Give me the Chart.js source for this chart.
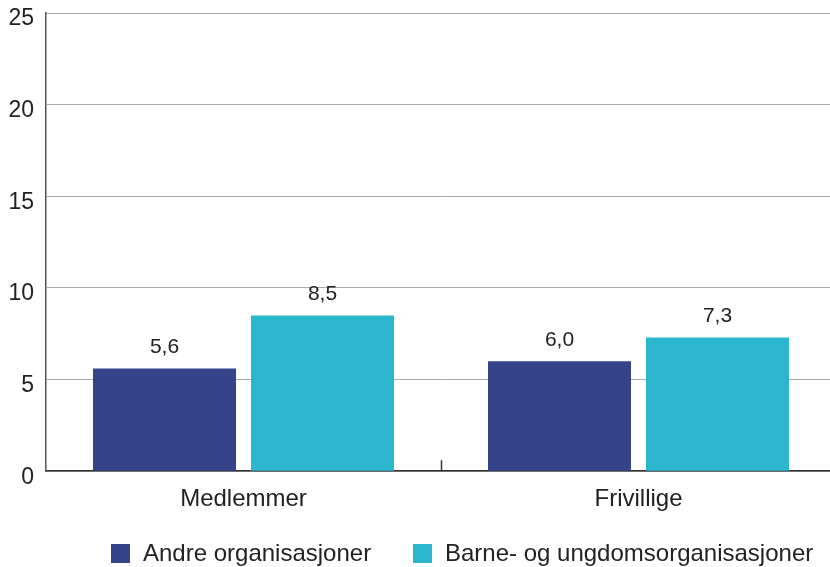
<!DOCTYPE html>
<html>
<head>
<meta charset="utf-8">
<script src="https://cdn.jsdelivr.net/npm/chart.js@4"></script>
<style>
  body { margin: 0; background: #fff; overflow: hidden; font-family: "Liberation Sans", Arial, sans-serif; }
  #wrap { position: relative; width: 836px; height: 567px; }
  .leg { position: absolute; top: 539px; font-size: 24px; color: #222; display: flex; align-items: center; white-space: nowrap; }
  .leg span.box { width: 19px; height: 19px; margin-right: 13px; display: inline-block; }
</style>
</head>
<body>
<div id="wrap">
  <canvas id="myChart" width="836" height="567"></canvas>
  <div class="leg" style="left:111px"><span class="box" style="background:#35438a"></span>Andre organisasjoner</div>
  <div class="leg" style="left:413px"><span class="box" style="background:#2ab7cd"></span>Barne- og ungdomsorganisasjoner</div>
</div>
<script>
  const categories = ['Medlemmer', 'Frivillige'];
  const andre = [5.6, 6.0];
  const barne = [8.5, 7.3];
  const seriesNames = ['Andre organisasjoner', 'Barne- og ungdomsorganisasjoner'];
  const yTicks = [0, 5, 10, 15, 20, 25];

  // value labels above bars, with comma decimals
  const valueLabels = {
    id: 'valueLabels',
    afterDatasetsDraw(chart) {
      const c = chart.ctx;
      c.save();
      c.font = '21px "Liberation Sans", Arial, sans-serif';
      c.fillStyle = '#222';
      c.textAlign = 'center';
      c.textBaseline = 'bottom';
      chart.data.datasets.forEach((ds, i) => {
        chart.getDatasetMeta(i).data.forEach((bar, j) => {
          c.fillText(ds.data[j].toFixed(1).replace('.', ','), bar.x, bar.y - 11);
        });
      });
      c.restore();
    }
  };

  // small separator tick between the categories
  const sepTick = {
    id: 'sepTick',
    afterDraw(chart) {
      const x = chart.scales.x.getPixelForValue(0.5);
      const y = chart.chartArea.bottom;
      const c = chart.ctx;
      c.save();
      c.strokeStyle = '#333';
      c.lineWidth = 1.5;
      c.beginPath();
      c.moveTo(Math.round(x) + 0.5, y);
      c.lineTo(Math.round(x) + 0.5, y - 11);
      c.stroke();
      c.restore();
    }
  };

  const ctx = document.getElementById('myChart').getContext('2d');
  const myChart = new Chart(ctx, {
    type: 'bar',
    data: {
      labels: categories,
      datasets: [{
        label: seriesNames[0],
        data: andre,
        backgroundColor: '#35438a'
      }, {
        label: seriesNames[1],
        data: barne,
        backgroundColor: '#2ab7cd'
      }]
    },
    options: {
      responsive: false,
      animation: false,
      layout: { padding: { top: 13, bottom: 47, left: 0, right: 0 } },
      plugins: {
        legend: { display: false },
        tooltip: { enabled: false }
      },
      datasets: {
        bar: { categoryPercentage: 0.8, barPercentage: 0.905 }
      },
      scales: {
        x: {
          grid: { display: false },
          border: { color: '#333', width: 1.5 },
          ticks: {
            color: '#222',
            padding: 6,
            font: { size: 24, family: '"Liberation Sans", Arial, sans-serif' }
          }
        },
        y: {
          min: 0,
          max: 25,
          afterFit(scale) {
            scale.width = 46;
            scale.paddingTop = 0;
            scale.paddingBottom = 0;
          },
          afterBuildTicks(scale) { scale.ticks = yTicks.map(v => ({ value: v })); },
          grid: { color: '#aaa', lineWidth: 1, drawTicks: false },
          border: { color: '#555', width: 1.5 },
          ticks: {
            color: '#222',
            padding: 12,
            labelOffset: 6,
            font: { size: 23, family: '"Liberation Sans", Arial, sans-serif' }
          }
        }
      }
    },
    plugins: [valueLabels, sepTick]
  });
</script>
</body>
</html>
